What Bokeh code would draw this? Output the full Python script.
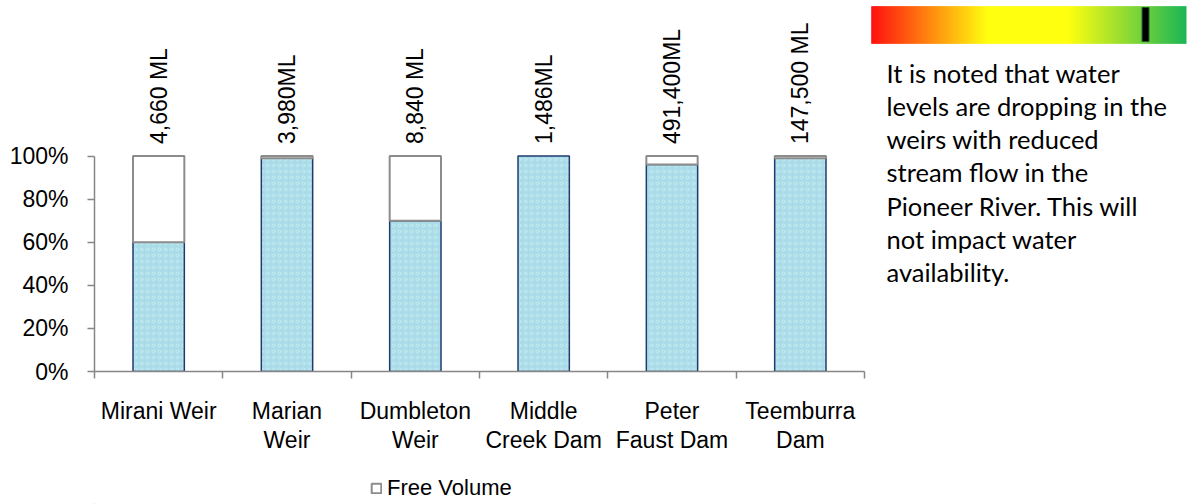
from bokeh.plotting import figure
from bokeh.layouts import column
from bokeh.models import (ColumnDataSource, Range1d, FixedTicker, NumeralTickFormatter,
                          LabelSet, Label, Legend, LegendItem)
from bokeh.core.properties import value
from bokeh.embed import file_html
from bokeh.resources import INLINE
import math

# ---------------- data ----------------
CATEGORIES = ["Mirani Weir", "Marian\nWeir", "Dumbleton\nWeir", "Middle\nCreek Dam",
              "Peter\nFaust Dam", "Teemburra\nDam"]
WATER_FRACTION = [0.60, 0.99, 0.70, 1.00, 0.96, 0.99]
CAPACITY_LABELS = ["4,660 ML", "3,980ML", "8,840 ML", "1,486ML", "491,400ML", "147,500 ML"]
Y_TICKS = [0.0, 0.2, 0.4, 0.6, 0.8, 1.0]
INDICATOR_LEVEL = 0.87
GRADIENT_STOPS = [(0.0, (255, 0, 0)), (0.37, (255, 255, 0)), (0.625, (255, 255, 0)), (1.0, (13, 177, 75))]
NOTE = ("It is noted that water\nlevels are dropping in the\nweirs with reduced\n"
        "stream flow in the\nPioneer River.  This will\nnot impact water\navailability.")

FONT = "Liberation Sans"
AXIS_COLOR = "#868686"
FREE_STYLE = dict(fill_color="white", line_color="#8c8c8c", line_width=2)

# ---------------- layout (pixels) ----------------
W, H, LEG_H = 1188, 460, 44
FRAME_L, FRAME_R = 94, 1186          # frame spans chart + note panel
FRAME_T, FRAME_B = 2, 371            # frame bottom = 0 % line
CHART_R = 864                         # right end of the category axis
FULL_Y = 155.5                        # pixel row of 100 %
PANEL_L, PANEL_R = 871, 1186          # gradient strip

n = len(CATEGORIES)
px_per_cat = (CHART_R - FRAME_L) / n
x_end = (FRAME_R - FRAME_L) / px_per_cat
px_per_unit_y = FRAME_B - FULL_Y
y_end = (FRAME_B - FRAME_T) / px_per_unit_y
panel_px = PANEL_R - PANEL_L
panel_start = -(PANEL_L - FRAME_L) / panel_px
panel_end = (FRAME_R - PANEL_L) / panel_px

xs = [i + 0.5 for i in range(n)]
free_top = [1.0] * n
free_alpha = [0.0 if w >= 1.0 else 1.0 for w in WATER_FRACTION]

src = ColumnDataSource(dict(x=xs, water=WATER_FRACTION, top=free_top,
                            falpha=free_alpha, lab=CAPACITY_LABELS))

p = figure(width=W, height=H, x_range=Range1d(0, x_end), y_range=Range1d(0, y_end),
           output_backend="svg", toolbar_location=None,
           min_border_left=FRAME_L, min_border_right=W - FRAME_R,
           min_border_top=FRAME_T, min_border_bottom=H - FRAME_B)
p.outline_line_color = None
p.grid.visible = False

p.vbar(x="x", top="water", bottom=0, width=0.4, source=src,
       fill_color="#a9dbe8", line_color="#1f3b6e", line_width=1.5,
       hatch_pattern="ring", hatch_color="#d6f1f7", hatch_scale=6, hatch_weight=1, hatch_alpha=0.6)
p.vbar(x="x", top="top", bottom="water", width=0.4, source=src, line_alpha="falpha", **FREE_STYLE)

# axes
p.yaxis.ticker = FixedTicker(ticks=Y_TICKS)
p.yaxis.formatter = NumeralTickFormatter(format="0%")
p.yaxis.major_tick_out = 7
p.yaxis.major_tick_in = 0
p.yaxis.minor_tick_line_color = None
p.yaxis.major_label_standoff = 19
p.yaxis.bounds = (0, 1)

p.xaxis.ticker = FixedTicker(ticks=xs, minor_ticks=list(range(n + 1)))
p.xaxis.major_label_overrides = {x: c for x, c in zip(xs, CATEGORIES)}
p.xaxis.major_tick_out = 0
p.xaxis.major_tick_in = 0
p.xaxis.minor_tick_out = 7
p.xaxis.minor_tick_in = 0
p.xaxis.minor_tick_line_color = AXIS_COLOR
p.xaxis.minor_tick_line_width = 1.5
p.xaxis.major_label_standoff = 19
p.xaxis.major_label_text_line_height = 1.13
p.xaxis.bounds = (0, n)

for ax in (p.xaxis, p.yaxis):
    ax.axis_line_color = AXIS_COLOR
    ax.axis_line_width = 1.5
    ax.major_tick_line_color = AXIS_COLOR
    ax.major_tick_line_width = 1.5
    ax.major_label_text_font = FONT
    ax.major_label_text_font_size = "23px"
    ax.major_label_text_color = "black"

labels = LabelSet(x="x", y="top", text="lab", source=src, angle=math.pi / 2,
                  y_offset=12, text_align="left", text_baseline="middle",
                  text_font=value(FONT), text_font_size=value("23px"), text_color="black")
p.add_layout(labels)

# ---------------- note panel (own ranges) ----------------
p.extra_x_ranges = {"panel": Range1d(panel_start, panel_end)}
p.extra_y_ranges = {"panel": Range1d(FRAME_B, FRAME_T)}   # pixel rows, downward


def grad_color(t):
    for (t0, c0), (t1, c1) in zip(GRADIENT_STOPS[:-1], GRADIENT_STOPS[1:]):
        if t0 <= t <= t1:
            f = 0 if t1 == t0 else (t - t0) / (t1 - t0)
            return "#%02x%02x%02x" % tuple(int(round(a + (b - a) * f)) for a, b in zip(c0, c1))
    return "#%02x%02x%02x" % GRADIENT_STOPS[-1][1]


steps = panel_px
lefts = [i / steps for i in range(steps)]
rights = [(i + 1) / steps for i in range(steps)]
cols = [grad_color((i + 0.5) / steps) for i in range(steps)]
p.quad(left=lefts, right=rights, top=[6] * steps, bottom=[43] * steps,
       fill_color=cols, line_color=cols, line_width=0.5,
       x_range_name="panel", y_range_name="panel")
p.quad(left=[INDICATOR_LEVEL - 0.011], right=[INDICATOR_LEVEL + 0.011], top=[7], bottom=[41],
       fill_color="black", line_color="#1e5c2e", line_width=1,
       x_range_name="panel", y_range_name="panel")

p.add_layout(Label(x=15 / panel_px, y=57, x_range_name="panel", y_range_name="panel",
                   text=NOTE, text_align="left", text_baseline="top",
                   text_font="Lato", text_font_size="25.5px",
                   text_line_height=1.11, text_color="black"))

# ---------------- legend strip ----------------
lg = figure(width=W, height=LEG_H, x_range=Range1d(0, 1), y_range=Range1d(0, 1),
            output_backend="svg", toolbar_location=None,
            x_axis_location=None, y_axis_location=None,
            min_border_left=FRAME_L, min_border_right=W - FRAME_R,
            min_border_top=0, min_border_bottom=0)
lg.outline_line_color = None
lg.grid.visible = False
free_proxy = lg.vbar(x=[-5], top=[-5], bottom=[-6], width=0.4, **FREE_STYLE)
legend = Legend(items=[LegendItem(label="Free Volume", renderers=[free_proxy])],
                location=(276, 3), orientation="horizontal",
                padding=0, margin=0, spacing=0, label_standoff=5,
                glyph_width=12, glyph_height=12,
                border_line_alpha=0, background_fill_alpha=0,
                label_text_font=FONT, label_text_font_size="22px", label_text_color="black")
lg.add_layout(legend)

open("out.html", "w").write(file_html(column(p, lg), INLINE))
